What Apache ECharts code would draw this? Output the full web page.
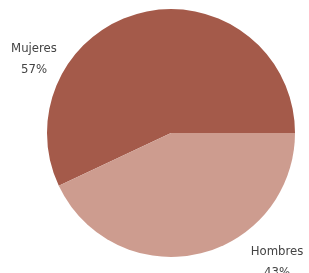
<!DOCTYPE html>
<html>
<head>
<meta charset="utf-8">
<script src="https://cdn.jsdelivr.net/npm/echarts@6/dist/echarts.min.js"></script>
<style>
  html, body { margin: 0; padding: 0; background: #fff; }
  #chart { width: 309px; height: 273px; }
</style>
</head>
<body>
<div id="chart"></div>
<script>
// datos
const categories = ['Mujeres', 'Hombres'];
const values = [57, 43];
const colors = ['#a45a4a', '#cd9c8f'];

// posicion de etiquetas (centro del texto)
const labelPos = [[34, 59], [277, 262]];

const chart = echarts.init(document.getElementById('chart'));

const option = {
  animation: false,
  series: [
    {
      type: 'pie',
      center: [171, 133],
      radius: 124,
      startAngle: 0,
      clockwise: false,
      data: categories.map((name, i) => ({
        name: name,
        value: values[i],
        itemStyle: { color: colors[i] }
      })),
      label: {
        show: true,
        position: 'outside',
        formatter: '{b}\n{d}%',
        color: '#444',
        fontFamily: 'DejaVu Sans Condensed, Liberation Sans Narrow, sans-serif',
        fontSize: 13,
        lineHeight: 21,
        align: 'center'
      },
      labelLine: { show: false },
      labelLayout: function (params) {
        const p = labelPos[params.dataIndex];
        return { x: p[0], y: p[1], align: 'center', verticalAlign: 'middle' };
      },
      emphasis: { disabled: true }
    }
  ]
};

chart.setOption(option);
</script>
</body>
</html>
